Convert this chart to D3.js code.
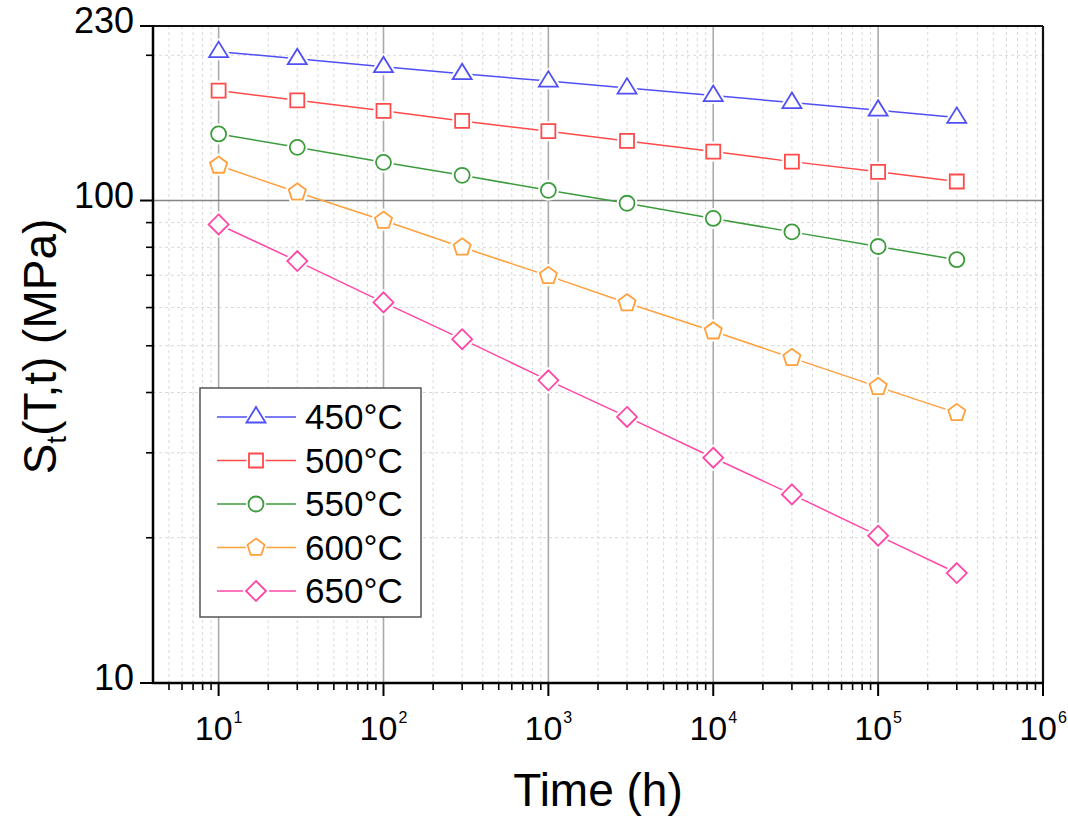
<!DOCTYPE html>
<html>
<head>
<meta charset="utf-8">
<script src="https://cdn.jsdelivr.net/npm/d3@7"></script>
<style>
  html, body { margin: 0; padding: 0; background: #fff; }
  svg { display: block; font-family: "Liberation Sans", Arial, sans-serif; }
</style>
</head>
<body>
<svg id="chart" width="1068" height="816"></svg>
<script>
// ---------------- data ----------------
const times = [10, 30, 100, 300, 1000, 3000, 10000, 30000, 100000, 300000];
const s450 = [203.5, 196.8, 189.4, 183.2, 176.8, 171.0, 165.0, 159.6, 153.9, 148.7];
const s500 = [169.0, 161.3, 153.4, 146.2, 139.2, 132.9, 126.3, 120.4, 114.7, 109.5];
const s550 = [137.4, 128.9, 120.0, 112.8, 105.0, 98.7, 91.8, 86.1, 80.3, 75.4];
const s600 = [118.2, 104.0, 90.9, 80.0, 69.8, 61.3, 53.6, 47.2, 41.1, 36.3];
const s650 = [89.2, 74.9, 61.5, 51.6, 42.4, 35.6, 29.3, 24.6, 20.2, 16.9];
const seriesLabels = ["450°C", "500°C", "550°C", "600°C", "650°C"];
const seriesColors = ["#4f4ff5", "#ff4a4a", "#3c9c3c", "#ffa03c", "#ff46a6"];
const seriesShapes = ["triangle", "square", "circle", "pentagon", "diamond"];
const xTickExps = [1, 2, 3, 4, 5, 6];
const yTickLabels = [10, 100, 230];
const yMinorTicks = [20, 30, 40, 50, 60, 70, 80, 90, 200];
const xDomain = [4, 1e6];
const yDomain = [10, 230];

const seriesValues = [s450, s500, s550, s600, s650];
const series = seriesLabels.map((lab, i) => ({
  label: lab, color: seriesColors[i], shape: seriesShapes[i],
  points: times.map((t, j) => ({ t: t, v: seriesValues[i][j] }))
}));

// ---------------- layout ----------------
const M = { left: 153, right: 1043, top: 26, bottom: 683 };
const svg = d3.select("#chart");
const x = d3.scaleLog().domain(xDomain).range([M.left, M.right]);
const y = d3.scaleLog().domain(yDomain).range([M.bottom, M.top]);

const xMinor = [];
for (let e = 0; e <= 5; e++) {
  for (let k = 2; k <= 9; k++) {
    const v = k * Math.pow(10, e);
    if (v > xDomain[0] && v < xDomain[1]) xMinor.push(v);
  }
}
const xMajor = xTickExps.map(e => Math.pow(10, e));

const grid = svg.append("g");
grid.selectAll("line.xmin").data(xMinor).enter().append("line")
  .attr("x1", d => x(d)).attr("x2", d => x(d))
  .attr("y1", M.top).attr("y2", M.bottom)
  .attr("stroke", "#d9d9d9").attr("stroke-width", 1).attr("stroke-dasharray", "3,3");
grid.selectAll("line.ymin").data(yMinorTicks).enter().append("line")
  .attr("x1", M.left).attr("x2", M.right)
  .attr("y1", d => y(d)).attr("y2", d => y(d))
  .attr("stroke", "#d9d9d9").attr("stroke-width", 1).attr("stroke-dasharray", "3,3");
grid.selectAll("line.xmaj").data(xMajor.filter(v => v < xDomain[1])).enter().append("line")
  .attr("x1", d => x(d)).attr("x2", d => x(d))
  .attr("y1", M.top).attr("y2", M.bottom)
  .attr("stroke", "#ababab").attr("stroke-width", 1.6);
grid.selectAll("line.ymaj").data([100]).enter().append("line")
  .attr("x1", M.left).attr("x2", M.right)
  .attr("y1", d => y(d)).attr("y2", d => y(d))
  .attr("stroke", "#858585").attr("stroke-width", 1.3);

// ---------------- symbols ----------------
function shapePath(shape) {
  const p = d3.path();
  if (shape === "triangle") {
    p.moveTo(0, -10); p.lineTo(9.5, 5.5); p.lineTo(-9.5, 5.5); p.closePath();
  } else if (shape === "square") {
    p.rect(-7, -7, 14, 14);
  } else if (shape === "circle") {
    p.arc(0, 0, 7.5, 0, 2 * Math.PI);
  } else if (shape === "pentagon") {
    const R = 9;
    for (let i = 0; i < 5; i++) {
      const a = -Math.PI / 2 + i * 2 * Math.PI / 5;
      if (i === 0) p.moveTo(R * Math.cos(a), R * Math.sin(a));
      else p.lineTo(R * Math.cos(a), R * Math.sin(a));
    }
    p.closePath();
  } else if (shape === "diamond") {
    p.moveTo(0, -10); p.lineTo(10, 0); p.lineTo(0, 10); p.lineTo(-10, 0); p.closePath();
  }
  return p.toString();
}

// ---------------- series ----------------
const line = d3.line().x(d => x(d.t)).y(d => y(d.v));
const plot = svg.append("g");
series.forEach(s => {
  plot.append("path").datum(s.points)
    .attr("d", line).attr("fill", "none")
    .attr("stroke", s.color).attr("stroke-width", 1.5);
});
series.forEach(s => {
  const g = plot.append("g");
  g.selectAll("path.halo").data(s.points).enter().append("path")
    .attr("transform", d => `translate(${x(d.t)},${y(d.v)})`)
    .attr("d", shapePath(s.shape))
    .attr("fill", "#fff").attr("stroke", "#fff").attr("stroke-width", 6)
    .attr("stroke-linejoin", "round");
  g.selectAll("path.mk").data(s.points).enter().append("path")
    .attr("transform", d => `translate(${x(d.t)},${y(d.v)})`)
    .attr("d", shapePath(s.shape))
    .attr("fill", "#fff").attr("stroke", s.color).attr("stroke-width", 1.8);
});

// ---------------- frame & axes ----------------
const frame = svg.append("g");
frame.append("line").attr("x1", M.left).attr("x2", M.right).attr("y1", M.top).attr("y2", M.top)
  .attr("stroke", "#111").attr("stroke-width", 2.2);
frame.append("line").attr("x1", M.right).attr("x2", M.right).attr("y1", M.top).attr("y2", M.bottom)
  .attr("stroke", "#111").attr("stroke-width", 2.2);

const xAxisG = svg.append("g").attr("transform", `translate(0,${M.bottom})`);
xAxisG.append("line").attr("x1", M.left - 1).attr("x2", M.right + 1).attr("y1", 0).attr("y2", 0)
  .attr("stroke", "#000").attr("stroke-width", 2.5);
xAxisG.selectAll("line.mj").data(xMajor).enter().append("line")
  .attr("x1", d => x(d)).attr("x2", d => x(d)).attr("y1", 0).attr("y2", 13)
  .attr("stroke", "#000").attr("stroke-width", 2);
xAxisG.selectAll("line.mn").data(xMinor).enter().append("line")
  .attr("x1", d => x(d)).attr("x2", d => x(d)).attr("y1", 0).attr("y2", 7)
  .attr("stroke", "#000").attr("stroke-width", 1.6);
const xl = xAxisG.selectAll("text.xl").data(xTickExps).enter().append("text")
  .attr("x", d => x(Math.pow(10, d))).attr("y", 57)
  .attr("text-anchor", "middle").attr("font-size", 34).attr("fill", "#000");
xl.append("tspan").text("10");
xl.append("tspan").attr("font-size", 16).attr("dx", 1).attr("dy", -17).text(d => d);

const yAxisG = svg.append("g").attr("transform", `translate(${M.left},0)`);
yAxisG.append("line").attr("x1", 0).attr("x2", 0).attr("y1", M.top - 1).attr("y2", M.bottom + 1)
  .attr("stroke", "#000").attr("stroke-width", 2.5);
yAxisG.selectAll("line.mj").data(yTickLabels).enter().append("line")
  .attr("x1", -13).attr("x2", 0).attr("y1", d => y(d)).attr("y2", d => y(d))
  .attr("stroke", "#000").attr("stroke-width", 2);
yAxisG.selectAll("line.mn").data(yMinorTicks).enter().append("line")
  .attr("x1", -7).attr("x2", 0).attr("y1", d => y(d)).attr("y2", d => y(d))
  .attr("stroke", "#000").attr("stroke-width", 1.6);
yAxisG.selectAll("text.yl").data(yTickLabels).enter().append("text")
  .attr("x", -19).attr("y", d => y(d)).attr("dy", "0.2em")
  .attr("text-anchor", "end").attr("font-size", 36).attr("fill", "#000")
  .text(d => d);

svg.append("text").attr("x", (M.left + M.right) / 2).attr("y", 806)
  .attr("text-anchor", "middle").attr("font-size", 46).attr("fill", "#000")
  .text("Time (h)");
const yt = svg.append("text")
  .attr("transform", `translate(56,${(M.top + M.bottom) / 2 - 8}) rotate(-90)`)
  .attr("text-anchor", "middle").attr("font-size", 46).attr("fill", "#000");
yt.append("tspan").text("S");
yt.append("tspan").attr("font-size", 28).attr("dy", 10).text("t");
yt.append("tspan").attr("dy", -10).text("(T,t) (MPa)");

// ---------------- legend ----------------
const lg = svg.append("g").attr("transform", "translate(200,388)");
lg.append("rect").attr("x", 0).attr("y", 0).attr("width", 221).attr("height", 229)
  .attr("fill", "#fff").attr("stroke", "#555").attr("stroke-width", 1.5);
series.forEach((s, i) => {
  const cy = 29 + i * 43.5;
  const row = lg.append("g").attr("transform", `translate(0,${cy})`);
  row.append("line").attr("x1", 17).attr("x2", 96).attr("y1", 0).attr("y2", 0)
    .attr("stroke", s.color).attr("stroke-width", 1.5);
  row.append("path").attr("transform", "translate(56,0)").attr("d", shapePath(s.shape))
    .attr("fill", "#fff").attr("stroke", "#fff").attr("stroke-width", 5);
  row.append("path").attr("transform", "translate(56,0)").attr("d", shapePath(s.shape))
    .attr("fill", "#fff").attr("stroke", s.color).attr("stroke-width", 1.8);
  row.append("text").attr("x", 105).attr("y", 12).attr("font-size", 35).attr("fill", "#000")
    .text(s.label);
});
</script>
</body>
</html>
